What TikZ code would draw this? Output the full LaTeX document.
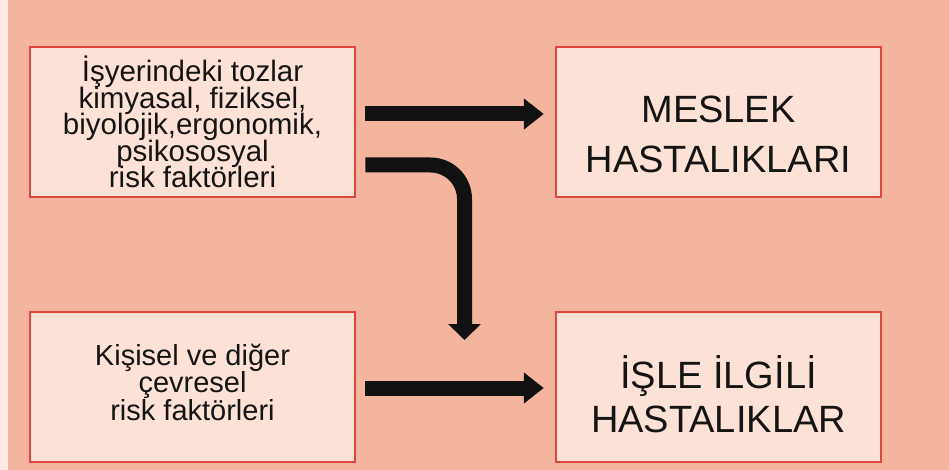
\documentclass[tikz,border=0pt]{standalone}
\usepackage{fontspec}
\setmainfont{Liberation Sans}
\usetikzlibrary{arrows.meta,calc}
\AtBeginDocument{\lineskiplimit=-100pt\relax}
\definecolor{bgsalmon}{HTML}{F4B59E}
\definecolor{boxfill}{HTML}{FCE2D6}
\definecolor{boxline}{HTML}{E0473C}
\definecolor{arrowblack}{HTML}{111111}
\definecolor{txt}{HTML}{141414}
\tikzset{
  riskbox/.style={draw=boxline, fill=boxfill, line width=2.5pt, rectangle,
    minimum width=325pt, minimum height=150pt, inner sep=0pt},
  smalltext/.style={align=center, text=txt, inner sep=0pt,
    font=\fontsize{29.5}{26.5}\selectfont},
  midtext/.style={align=center, text=txt, inner sep=0pt,
    font=\fontsize{29}{27.5}\selectfont},
  bigtextA/.style={align=center, text=txt, inner sep=0pt,
    font=\fontsize{38}{50}\selectfont},
  bigtextB/.style={align=center, text=txt, inner sep=0pt,
    font=\fontsize{38}{44}\selectfont},
  bigarrow/.style={draw=arrowblack, line width=15pt,
    -{Triangle[width=30pt,length=20pt]}},
  downarrow/.style={draw=arrowblack, line width=15pt, rounded corners=34pt,
    -{Triangle[width=32pt,length=16pt]}}
}
\begin{document}
\begin{tikzpicture}[x=1pt,y=-1pt]
\fill[bgsalmon] (0,0) rectangle (949,470);
\fill[white!70!bgsalmon] (0,0) rectangle (8,470);
\useasboundingbox (0,0) rectangle (949,470);

\node[riskbox] (b1) at (192.5,122) {};
\node[riskbox] (b2) at (718.5,122) {};
\node[riskbox] (b3) at (192.5,387) {};
\node[riskbox] (b4) at (718.5,387) {};

\node[smalltext] (t1) at ($(b1.center)+(0,0)$) {İşyerindeki tozlar\\kimyasal, fiziksel,\\biyolojik,ergonomik,\\psikososyal\\risk faktörleri};
\node[bigtextA] (t2) at ($(b2.center)+(0,12)$) {MESLEK\\HASTALIKLARI};
\node[midtext] (t3) at ($(b3.center)+(0,-5)$) {Kişisel ve diğer\\çevresel\\risk faktörleri};
\node[bigtextB] (t4) at ($(b4.center)+(0,7)$) {İŞLE İLGİLİ\\HASTALIKLAR};

\coordinate (vtip) at (464.5,340);

\draw[bigarrow] ([xshift=9pt]b1.east |- 0,114) -- ([xshift=-11pt]b2.west |- 0,114);
\draw[downarrow] ([xshift=9pt]b1.east |- 0,165) -| (vtip);
\draw[bigarrow] ([xshift=9pt]b3.east |- 0,388) -- ([xshift=-11pt]b4.west |- 0,388);
\end{tikzpicture}
\end{document}
